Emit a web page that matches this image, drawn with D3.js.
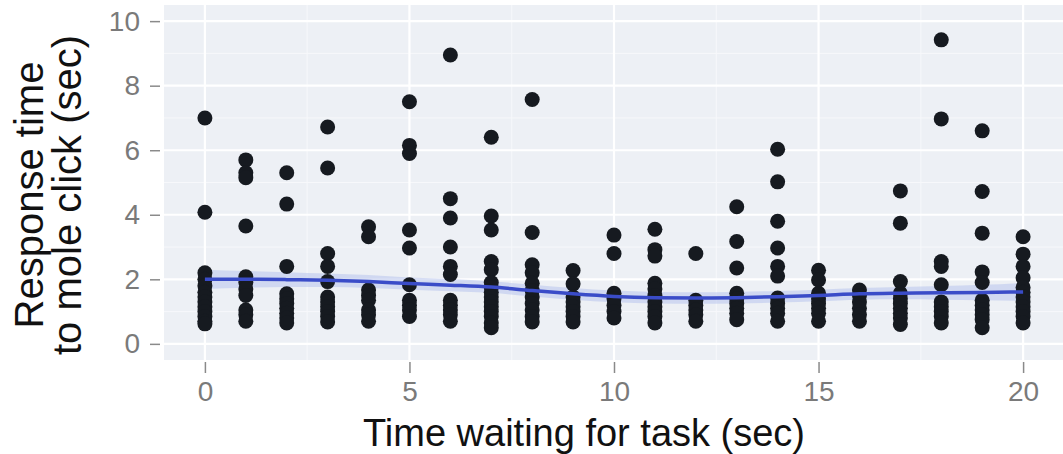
<!DOCTYPE html>
<html>
<head>
<meta charset="utf-8">
<script src="https://cdn.jsdelivr.net/npm/d3@7"></script>
<style>
  html, body { margin: 0; padding: 0; background: #ffffff; }
  svg { display: block; }
</style>
</head>
<body>
<svg id="chart" width="1063" height="454"></svg>
<script>
// ---------- data ----------
const waitTimes = [0,1,2,3,4,5,6,7,8,9,10,11,12,13,14,15,16,17,18,19,20];
const responseTimes = [
  [7.0, 4.08, 2.2, 2.0, 1.8, 1.6, 1.45, 1.3, 1.15, 1.0, 0.85, 0.7, 0.62],
  [5.7, 5.3, 5.15, 3.65, 2.08, 1.9, 1.7, 1.5, 1.05, 0.9, 0.7],
  [5.3, 4.33, 2.4, 1.55, 1.4, 1.25, 1.1, 0.95, 0.8, 0.65],
  [6.72, 5.45, 2.8, 2.4, 1.93, 1.45, 1.3, 1.15, 1.0, 0.85, 0.68],
  [3.63, 3.32, 1.67, 1.5, 1.35, 1.05, 0.9, 0.7],
  [7.5, 6.15, 5.9, 3.53, 2.97, 1.83, 1.35, 1.2, 1.05, 0.85],
  [8.95, 4.5, 3.9, 3.0, 2.4, 2.15, 1.35, 1.2, 1.05, 0.9, 0.7],
  [6.4, 3.96, 3.53, 2.55, 2.3, 1.9, 1.75, 1.6, 1.45, 1.3, 1.15, 1.0, 0.85, 0.65, 0.5],
  [7.57, 3.45, 2.45, 2.2, 1.88, 1.65, 1.45, 1.25, 1.05, 0.85, 0.68],
  [2.27, 1.86, 1.45, 1.3, 1.15, 1.0, 0.85, 0.68],
  [3.37, 2.8, 1.57, 1.4, 1.2, 1.0, 0.8],
  [3.55, 2.92, 2.72, 1.88, 1.7, 1.5, 1.3, 1.15, 1.0, 0.85, 0.65],
  [2.8, 1.35, 1.2, 1.05, 0.9, 0.7],
  [4.25, 3.17, 2.35, 1.57, 1.4, 1.25, 1.1, 0.95, 0.75],
  [6.03, 5.02, 3.8, 2.97, 2.4, 2.1, 1.42, 1.25, 1.1, 0.95, 0.7],
  [2.28, 1.98, 1.57, 1.4, 1.25, 1.1, 0.95, 0.7],
  [1.67, 1.5, 1.3, 1.1, 0.9, 0.7],
  [4.74, 3.74, 1.93, 1.57, 1.4, 1.25, 1.1, 0.95, 0.8, 0.6],
  [9.42, 6.97, 2.55, 2.4, 1.83, 1.3, 1.15, 1.0, 0.85, 0.65],
  [6.6, 4.72, 3.43, 2.23, 1.9, 1.35, 1.2, 1.05, 0.9, 0.75, 0.5],
  [3.32, 2.78, 2.4, 2.05, 1.75, 1.6, 1.45, 1.3, 1.15, 1.0, 0.85, 0.65]
];
const smoothFit = [2.0, 2.0, 1.99, 1.97, 1.93, 1.87, 1.82, 1.76, 1.65, 1.55, 1.47, 1.43, 1.42, 1.43, 1.46, 1.5, 1.55, 1.57, 1.58, 1.59, 1.61];
const smoothSE  = [0.3, 0.26, 0.23, 0.21, 0.2, 0.19, 0.19, 0.18, 0.18, 0.18, 0.18, 0.18, 0.18, 0.18, 0.18, 0.18, 0.18, 0.19, 0.21, 0.24, 0.28];
const xTicks = [0, 5, 10, 15, 20];
const xMinor = [2.5, 7.5, 12.5, 17.5];
const yTicks = [0, 2, 4, 6, 8, 10];
const yMinor = [1, 3, 5, 7, 9];
const xTitle = "Time waiting for task (sec)";
const yTitleLines = ["Response time", "to mole click (sec)"];

// ---------- layout ----------
const svg = d3.select("#chart");
const panel = { left: 164, right: 1064, top: 5, bottom: 360 };
const x = d3.scaleLinear().domain([-1, 21]).range([panel.left, panel.right]);
const y = d3.scaleLinear().domain([-0.5, 10.5]).range([panel.bottom, panel.top]);

const font = "'Liberation Sans', Arial, Helvetica, sans-serif";

// panel background
svg.append("rect")
  .attr("x", panel.left).attr("y", panel.top)
  .attr("width", panel.right - panel.left).attr("height", panel.bottom - panel.top)
  .attr("fill", "#edf0f5");

const clip = svg.append("defs").append("clipPath").attr("id", "pclip");
clip.append("rect")
  .attr("x", panel.left).attr("y", panel.top)
  .attr("width", panel.right - panel.left).attr("height", panel.bottom - panel.top);

const gp = svg.append("g").attr("clip-path", "url(#pclip)");

// grid
gp.selectAll("line.ymin").data(yMinor).join("line")
  .attr("x1", panel.left).attr("x2", panel.right)
  .attr("y1", d => y(d)).attr("y2", d => y(d))
  .attr("stroke", "#f7f8fb").attr("stroke-width", 1);
gp.selectAll("line.xmin").data(xMinor).join("line")
  .attr("y1", panel.top).attr("y2", panel.bottom)
  .attr("x1", d => x(d)).attr("x2", d => x(d))
  .attr("stroke", "#f7f8fb").attr("stroke-width", 1);
gp.selectAll("line.ymaj").data(yTicks).join("line")
  .attr("x1", panel.left).attr("x2", panel.right)
  .attr("y1", d => y(d)).attr("y2", d => y(d))
  .attr("stroke", "#ffffff").attr("stroke-width", 2.2);
gp.selectAll("line.xmaj").data(xTicks).join("line")
  .attr("y1", panel.top).attr("y2", panel.bottom)
  .attr("x1", d => x(d)).attr("x2", d => x(d))
  .attr("stroke", "#ffffff").attr("stroke-width", 2.2);

// confidence band
const bandData = waitTimes.map((t, i) => ({ t, fit: smoothFit[i], se: smoothSE[i] }));
gp.append("path")
  .datum(bandData)
  .attr("d", d3.area().curve(d3.curveMonotoneX)
    .x(d => x(d.t)).y0(d => y(d.fit - d.se)).y1(d => y(d.fit + d.se)))
  .attr("fill", "#b8c4ec").attr("opacity", 0.55);

// points
const pts = [];
waitTimes.forEach((t, i) => responseTimes[i].forEach(v => pts.push({ t, v })));
gp.selectAll("circle.pt").data(pts).join("circle")
  .attr("cx", d => x(d.t)).attr("cy", d => y(d.v)).attr("r", 7.5)
  .attr("fill", "#161a20");

// smooth line
gp.append("path")
  .datum(bandData)
  .attr("d", d3.line().curve(d3.curveMonotoneX).x(d => x(d.t)).y(d => y(d.fit)))
  .attr("fill", "none").attr("stroke", "#3a4cc8").attr("stroke-width", 3.5);

// y axis
const yAxis = d3.axisLeft(y).tickValues(yTicks).tickSize(10).tickPadding(10).tickSizeOuter(0);
const gy = svg.append("g").attr("transform", `translate(${panel.left - 4},0)`).call(yAxis);
gy.select(".domain").remove();
gy.selectAll(".tick line").attr("stroke", "#8a8a8a").attr("stroke-width", 1.5);
gy.selectAll(".tick text").attr("fill", "#7a7a7a").attr("font-size", 28).attr("font-family", font);

// x axis
const xAxis = d3.axisBottom(x).tickValues(xTicks).tickSize(11).tickPadding(8).tickSizeOuter(0);
const gx = svg.append("g").attr("transform", `translate(0,${panel.bottom + 2})`).call(xAxis);
gx.select(".domain").remove();
gx.selectAll(".tick line").attr("stroke", "#8a8a8a").attr("stroke-width", 1.5);
gx.selectAll(".tick text").attr("fill", "#7a7a7a").attr("font-size", 28).attr("font-family", font);

// titles
svg.append("text")
  .attr("x", 584).attr("y", 446)
  .attr("text-anchor", "middle")
  .attr("font-family", font).attr("font-size", 38).attr("fill", "#111")
  .text(xTitle);

const yt = svg.append("text")
  .attr("transform", "translate(0,195) rotate(-90)")
  .attr("text-anchor", "middle")
  .attr("font-family", font).attr("font-size", 40).attr("fill", "#111");
yt.selectAll("tspan").data(yTitleLines).join("tspan")
  .attr("x", 0).attr("y", (d, i) => 43 + i * 38)
  .text(d => d);
</script>
</body>
</html>
